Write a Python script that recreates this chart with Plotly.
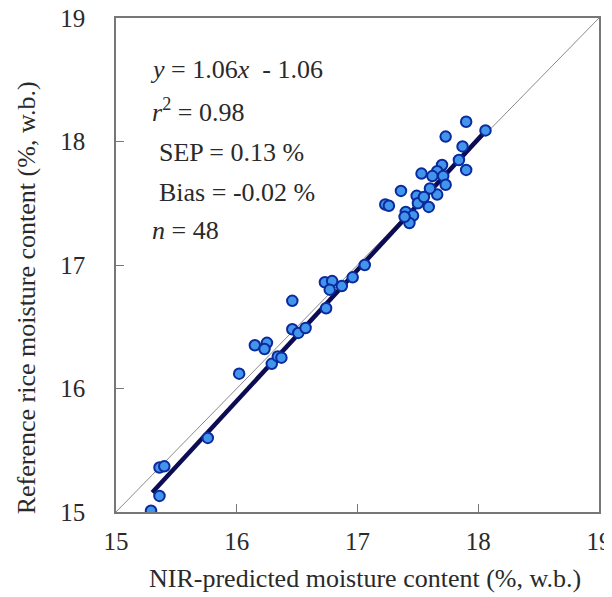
import plotly.graph_objects as go

# NIR-predicted (x) vs reference (y) moisture content
nir_pred = [15.29, 15.36, 15.36, 15.40, 15.76, 16.02, 16.15, 16.25, 16.23, 16.29,
            16.34, 16.37, 16.46, 16.51, 16.57, 16.46, 16.74, 16.73, 16.79, 16.77,
            16.87, 16.96, 17.06, 17.23, 17.26, 17.36, 17.53, 17.73, 17.90, 18.06,
            17.87, 17.84, 17.90, 17.70, 17.66, 17.62, 17.71, 17.73, 17.66, 17.60,
            17.59, 17.49, 17.50, 17.40, 17.46, 17.43, 17.39, 17.55]
reference = [15.01, 15.13, 15.36, 15.37, 15.60, 16.12, 16.35, 16.37, 16.32, 16.20,
             16.26, 16.25, 16.48, 16.45, 16.49, 16.71, 16.65, 16.86, 16.87, 16.80,
             16.83, 16.90, 17.00, 17.49, 17.48, 17.60, 17.74, 18.04, 18.16, 18.09,
             17.96, 17.85, 17.77, 17.81, 17.76, 17.72, 17.72, 17.65, 17.57, 17.62,
             17.47, 17.56, 17.50, 17.43, 17.40, 17.34, 17.39, 17.55]

slope = 1.06
intercept = -1.06
fit_x = [15.30, 18.07]
fit_y = [slope * v + intercept for v in fit_x]
ident = [15, 19]

tick_vals = [15, 16, 17, 18, 19]
tick_text = ["15", "16", "17", "18", "19"]

x_title = "NIR-predicted moisture content (%, w.b.)"
y_title = "Reference rice moisture content (%, w.b.)"

stat_lines = ["<i>y</i> = 1.06<i>x</i>  - 1.06",
              "<i>r</i><sup>2</sup> = 0.98",
              "SEP = 0.13 %",
              "Bias = -0.02 %",
              "<i>n</i> = 48"]
stat_x = [15.265, 15.28, 15.34, 15.34, 15.28]
stat_y = [18.58, 18.25, 17.91, 17.59, 17.28]

FONT = "Liberation Serif, Times New Roman, serif"
TXT = "#2a2a2a"

fig = go.Figure()
fig.add_trace(go.Scatter(x=ident, y=ident, mode="lines",
                         line=dict(color="#8a8a8a", width=1), showlegend=False))
fig.add_trace(go.Scatter(x=fit_x, y=fit_y, mode="lines",
                         line=dict(color="#0c0c55", width=4.5), showlegend=False))
fig.add_trace(go.Scatter(x=nir_pred, y=reference, mode="markers",
                         marker=dict(size=10.5, color="#4195ec",
                                     line=dict(color="#0b2a9c", width=2)),
                         showlegend=False))

for txt, xx, yy in zip(stat_lines, stat_x, stat_y):
    fig.add_annotation(x=xx, y=yy, xref="x", yref="y", text=txt,
                       showarrow=False, xanchor="left", yanchor="middle",
                       font=dict(family=FONT, size=26, color=TXT))

fig.add_annotation(x=0.5145, y=-0.134, xref="paper", yref="paper", text=x_title,
                   showarrow=False, xanchor="center", yanchor="middle",
                   font=dict(family=FONT, size=26, color=TXT))
fig.add_annotation(x=-0.186, y=0.433, xref="paper", yref="paper", text=y_title,
                   textangle=-90, showarrow=False, xanchor="center", yanchor="middle",
                   font=dict(family=FONT, size=26, color=TXT))

axis_common = dict(range=[15, 19], tickvals=tick_vals, ticktext=tick_text,
                   ticks="inside", ticklen=8, tickwidth=1.2, tickcolor="#777",
                   showline=True, linecolor="#777", linewidth=1.5, mirror=True,
                   showgrid=False, zeroline=False, automargin=False,
                   ticklabeloverflow="allow",
                   tickfont=dict(family=FONT, size=25, color=TXT))

fig.update_xaxes(**axis_common, ticklabelstandoff=6)
fig.update_yaxes(**axis_common, ticklabelstandoff=24)

# page body adds an 8px offset, so the figure is sized to fit the window
fig.update_layout(width=604, height=589,
                  margin=dict(l=108, r=13, t=10, b=85),
                  plot_bgcolor="white", paper_bgcolor="white")

fig.write_html("out.html")
